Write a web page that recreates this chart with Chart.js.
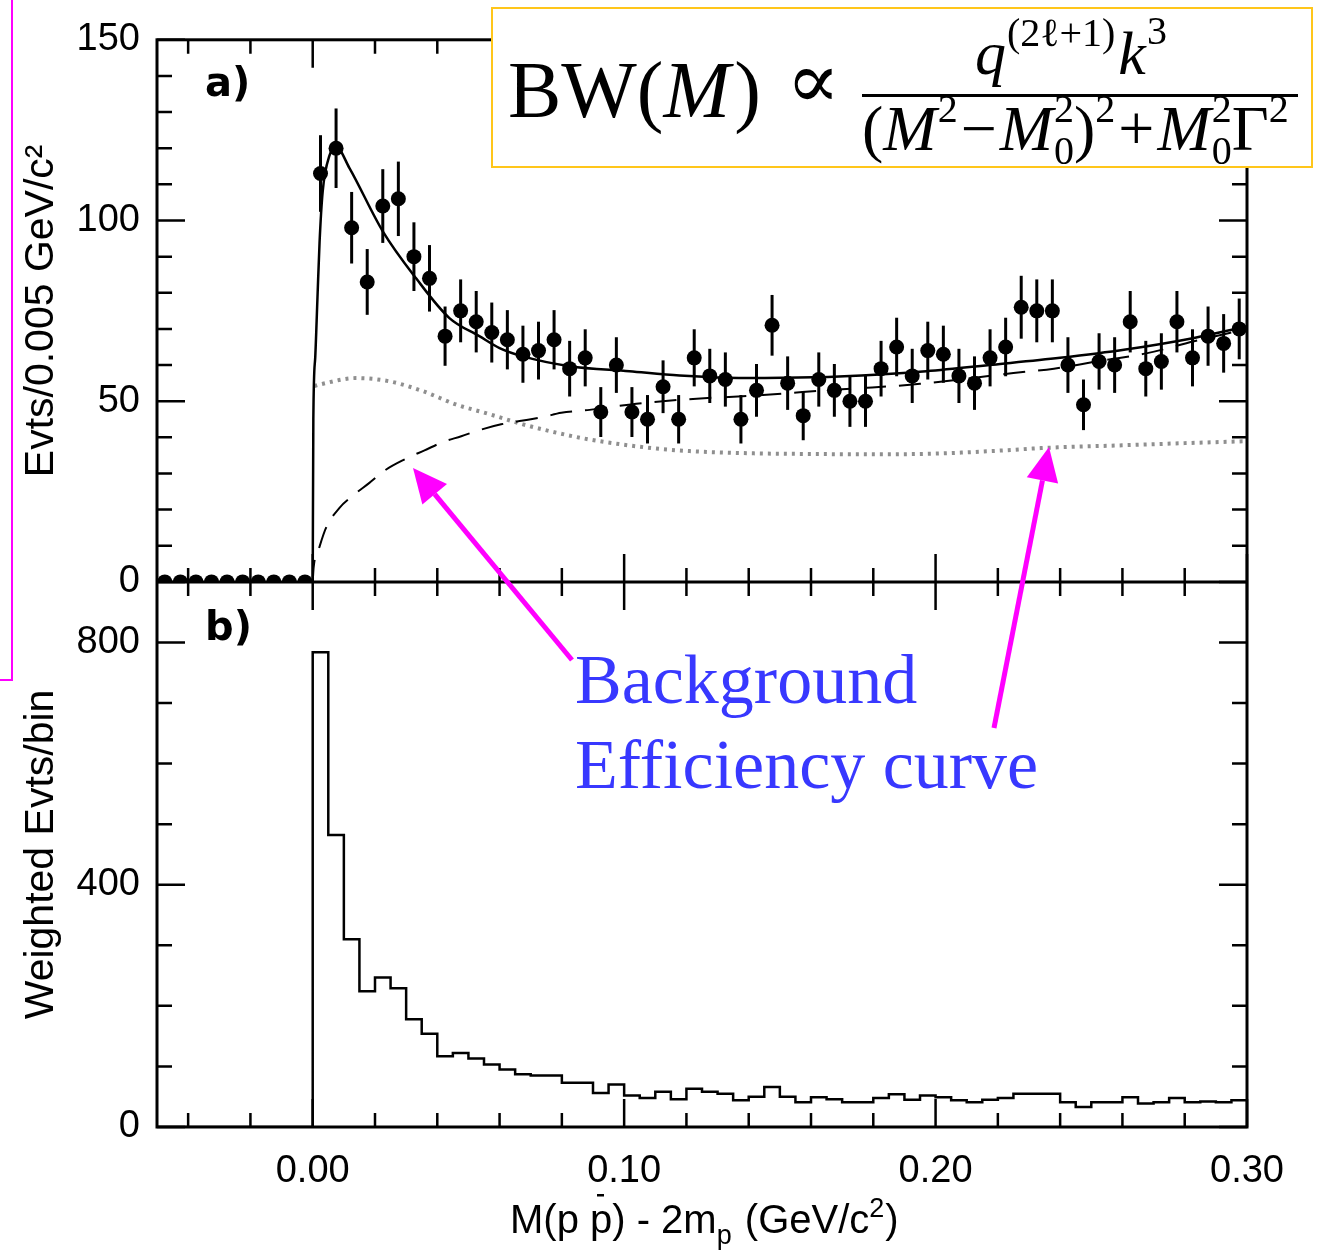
<!DOCTYPE html>
<html>
<head>
<meta charset="utf-8">
<script src="https://cdn.jsdelivr.net/npm/chart.js@4.4.0/dist/chart.umd.min.js"></script>
<style>
  html, body { margin: 0; padding: 0; background: #fff; }
  #wrap { position: relative; width: 1317px; height: 1251px; }
</style>
</head>
<body>
<div id="wrap"><canvas id="mass-chart" width="1317" height="1251"></canvas></div>
<script>
// M(p pbar) - 2m_p : a) events with fit, b) weighted events per bin

const binCentres = [
    -0.0475, -0.0425, -0.0375, -0.0325, -0.0275, -0.0225, -0.0175, -0.0125, -0.0075, -0.0025,
    0.0025, 0.0075, 0.0125, 0.0175, 0.0225, 0.0275, 0.0325, 0.0375, 0.0425, 0.0475,
    0.0525, 0.0575, 0.0625, 0.0675, 0.0725, 0.0775, 0.0825, 0.0875, 0.0925, 0.0975,
    0.1025, 0.1075, 0.1125, 0.1175, 0.1225, 0.1275, 0.1325, 0.1375, 0.1425, 0.1475,
    0.1525, 0.1575, 0.1625, 0.1675, 0.1725, 0.1775, 0.1825, 0.1875, 0.1925, 0.1975,
    0.2025, 0.2075, 0.2125, 0.2175, 0.2225, 0.2275, 0.2325, 0.2375, 0.2425, 0.2475,
    0.2525, 0.2575, 0.2625, 0.2675, 0.2725, 0.2775, 0.2825, 0.2875, 0.2925, 0.2975
];

// panel a) events / 0.005 GeV/c2
const counts = [
    0, 0, 0, 0, 0, 0, 0, 0, 0, 0,
    113, 120, 98, 83, 104, 106, 90, 84, 68, 75,
    72, 69, 67, 63, 64, 67, 59, 62, 47, 60,
    47, 45, 54, 45, 62, 57, 56, 45, 53, 71,
    55, 46, 56, 53, 50, 50, 59, 65, 57, 64,
    63, 57, 55, 62, 65, 76, 75, 75, 60, 49,
    61, 60, 72, 59, 61, 72, 62, 68, 66, 70
];
const countErrors = [
    0, 0, 0, 0, 0, 0, 0, 0, 0, 0,
    10.6, 11.0, 9.9, 9.1, 10.2, 10.3, 9.5, 9.2, 8.2, 8.7,
    8.5, 8.3, 8.2, 7.9, 8.0, 8.2, 7.7, 7.9, 6.9, 7.7,
    6.9, 6.7, 7.3, 6.7, 7.9, 7.5, 7.5, 6.7, 7.3, 8.4,
    7.4, 6.8, 7.5, 7.3, 7.1, 7.1, 7.7, 8.1, 7.5, 8.0,
    7.9, 7.5, 7.4, 7.9, 8.1, 8.7, 8.7, 8.7, 7.7, 7.0,
    7.8, 7.7, 8.5, 7.7, 7.8, 8.5, 7.9, 8.2, 8.1, 8.4
];

// fit (solid), background (dashed), efficiency (dotted)
const fitX = [0, 0.0002, 0.0008, 0.0015, 0.0022, 0.0032, 0.0054, 0.0075, 0.0118, 0.0225, 0.0332, 0.0439,
    0.0535, 0.06, 0.0675, 0.0825, 0.1017, 0.1178, 0.139, 0.1605, 0.182, 0.197, 0.2184, 0.24, 0.261, 0.283, 0.30];
const fitY = [0, 45, 62, 78, 94, 108, 118, 120.4, 114.5, 97, 84, 73,
    68, 64.7, 62.4, 59.7, 58.3, 57.1, 56.4, 56.6, 57.4, 58.3, 60.1, 62, 64.3, 67.5, 70.7];

const bkgX = [0, 0.0003, 0.0021, 0.0043, 0.0086, 0.0128, 0.0182, 0.0236, 0.0295, 0.0359, 0.0418, 0.0477,
    0.0535, 0.0605, 0.0664, 0.0739, 0.0798, 0.0889, 0.1039, 0.1199, 0.138, 0.151, 0.164, 0.178, 0.195,
    0.225, 0.238, 0.2517, 0.268, 0.283, 0.30];
const bkgY = [0, 4, 9.5, 15, 20.5, 23.8, 27.4, 31.1, 33.9, 36.4, 38.7, 40.3,
    42, 43.6, 44.5, 45.6, 46.8, 47.6, 49.3, 50.5, 51.4, 52.1, 53, 53.7, 54.8,
    57.8, 59, 61, 63.3, 66.6, 70];

const effX = [0.0005, 0.0022, 0.0139, 0.0246, 0.0353, 0.046, 0.0568, 0.0675, 0.0782, 0.0889, 0.0996,
    0.1103, 0.121, 0.14, 0.16, 0.182, 0.2, 0.22, 0.2356, 0.26, 0.28, 0.2987];
const effY = [54.2, 54.6, 56.4, 55.5, 52.8, 49.1, 46.4, 43.6, 41.3, 39.4, 38,
    36.9, 36.2, 35.6, 35.4, 35.3, 35.5, 36.3, 37.1, 37.8, 38.4, 38.9];

// panel b) weighted events per bin, bins from 0.000 to 0.300
const weightedCounts = [
    784, 482, 310, 224, 247, 229, 178, 154, 117, 122,
    113, 103, 95, 87, 85, 85, 73, 73, 56, 70,
    52, 48, 58, 46, 63, 58, 55, 44, 50, 66,
    50, 41, 49, 46, 41, 41, 48, 54, 45, 52,
    49, 44, 41, 45, 48, 55, 55, 55, 41, 33,
    41, 41, 49, 39, 41, 48, 41, 42, 41, 44
];

const xMin = -0.05, xMax = 0.30, binWidth = 0.005;
const xTickLabels = [0, 0.1, 0.2, 0.3];
const xTickMarks = [-0.04, -0.02, 0, 0.02, 0.04, 0.06, 0.08, 0.1, 0.12, 0.14, 0.16, 0.18, 0.2, 0.22, 0.24, 0.26, 0.28, 0.3];
const yTicksA = [0, 50, 100, 150];
const yMinorA = [0, 10, 20, 30, 40, 50, 60, 70, 80, 90, 100, 110, 120, 130, 140, 150];
const yTicksB = [0, 400, 800];
const yMinorB = [0, 100, 200, 300, 400, 500, 600, 700, 800];

const SANS = '"Liberation Sans", Arial, Helvetica, sans-serif';
const SERIF = '"Liberation Serif", "Times New Roman", "DejaVu Serif", serif';

const toXY = (xs, ys) => xs.map((x, i) => ({ x: x, y: ys[i] }));

const histCentres = binCentres.slice(binCentres.length - weightedCounts.length);
const histPoints = [{ x: xMin, y: 0 }]
    .concat(histCentres.map((c, i) => ({ x: c - binWidth / 2, y: weightedCounts[i] })))
    .concat([{ x: xMax, y: weightedCounts[weightedCounts.length - 1] }]);

function isMajor(v, list) {
    return list.some(m => Math.abs(m - v) < 1e-9);
}

function drawRuns(ctx, x, y, runs, family) {
    for (const r of runs) {
        ctx.font = (r.italic ? 'italic ' : '') + r.size + 'px ' + family;
        const w = ctx.measureText(r.text).width;
        ctx.fillText(r.text, x + (r.dx || 0), y + (r.dy || 0));
        if (r.mark) r.mark(x + (r.dx || 0), w);
        if (!r.hold) x += w + (r.dx || 0) + (r.gap || 0);
    }
    return x;
}

function arrow(ctx, x1, y1, x2, y2) {
    const ang = Math.atan2(y2 - y1, x2 - x1);
    const headLen = 34, headHalf = 16;
    const bx = x2 - headLen * Math.cos(ang), by = y2 - headLen * Math.sin(ang);
    ctx.beginPath();
    ctx.moveTo(x1, y1);
    ctx.lineTo(bx, by);
    ctx.stroke();
    ctx.beginPath();
    ctx.moveTo(x2, y2);
    ctx.lineTo(bx + headHalf * Math.sin(ang), by - headHalf * Math.cos(ang));
    ctx.lineTo(bx - headHalf * Math.sin(ang), by + headHalf * Math.cos(ang));
    ctx.closePath();
    ctx.fill();
}

// error bars, frame and inward ticks
const framePlugin = {
    id: 'frame',
    afterDatasetsDraw(chart) {
        const ctx = chart.ctx;
        const x = chart.scales.x, yA = chart.scales.yA, yB = chart.scales.yB;
        const L = chart.chartArea.left, R = chart.chartArea.right;
        ctx.save();
        ctx.strokeStyle = '#000';
        ctx.lineCap = 'butt';

        // error bars
        ctx.lineWidth = 3;
        counts.forEach((c, i) => {
            if (!countErrors[i]) return;
            const px = x.getPixelForValue(binCentres[i]);
            ctx.beginPath();
            ctx.moveTo(px, yA.getPixelForValue(c - countErrors[i]));
            ctx.lineTo(px, yA.getPixelForValue(c + countErrors[i]));
            ctx.stroke();
        });

        // frame
        ctx.lineWidth = 3;
        ctx.strokeRect(L, yA.top, R - L, yB.bottom - yA.top);
        ctx.beginPath();
        ctx.moveTo(L, yA.bottom);
        ctx.lineTo(R, yA.bottom);
        ctx.stroke();

        ctx.lineWidth = 2.5;
        ctx.beginPath();
        xTickMarks.forEach(v => {
            const px = x.getPixelForValue(v);
            const len = isMajor(v, xTickLabels) ? 28 : 14;
            ctx.moveTo(px, yA.top); ctx.lineTo(px, yA.top + len);
            ctx.moveTo(px, yA.bottom); ctx.lineTo(px, yA.bottom - len);
            ctx.moveTo(px, yB.top); ctx.lineTo(px, yB.top + len);
            ctx.moveTo(px, yB.bottom); ctx.lineTo(px, yB.bottom - len);
        });
        yMinorA.forEach(v => {
            const py = yA.getPixelForValue(v);
            const len = isMajor(v, yTicksA) ? 28 : 15;
            ctx.moveTo(L, py); ctx.lineTo(L + len, py);
            ctx.moveTo(R, py); ctx.lineTo(R - len, py);
        });
        yMinorB.forEach(v => {
            const py = yB.getPixelForValue(v);
            const len = isMajor(v, yTicksB) ? 28 : 15;
            ctx.moveTo(L, py); ctx.lineTo(L + len, py);
            ctx.moveTo(R, py); ctx.lineTo(R - len, py);
        });
        ctx.stroke();
        ctx.restore();
    },
    afterDraw(chart) {
        const ctx = chart.ctx;
        const L = chart.chartArea.left;
        const yA = chart.scales.yA, yB = chart.scales.yB;
        ctx.save();
        ctx.fillStyle = '#000';
        ctx.textBaseline = 'alphabetic';
        ctx.textAlign = 'left';

        // panel labels
        ctx.font = 'bold 40px "DejaVu Sans", sans-serif';
        ctx.fillText('a)', L + 48, yA.top + 56);
        ctx.fillText('b)', L + 48, yB.top + 58);

        // x axis title
        drawRuns(ctx, 510, 1233, [
            { text: 'M(p ', size: 40 },
            { text: 'p', size: 40, mark: (px) => ctx.fillRect(px + 7, 1194, 7, 2.5) },
            { text: ') - 2m', size: 40 },
            { text: 'p', size: 27, dy: 11, gap: 2 },
            { text: ' (GeV/c', size: 40 },
            { text: '2', size: 27, dy: -16, gap: 1 },
            { text: ')', size: 40 }
        ], SANS);

        // formula box
        ctx.fillStyle = '#fff';
        ctx.fillRect(492, 8, 820, 159);
        ctx.strokeStyle = '#ffc61a';
        ctx.lineWidth = 2;
        ctx.strokeRect(492, 8, 820, 159);
        ctx.fillStyle = '#000';
        drawRuns(ctx, 508, 117, [
            { text: 'BW(', size: 80 },
            { text: 'M', size: 80, italic: true, gap: 4 },
            { text: ')', size: 80 }
        ], SERIF);
        drawRuns(ctx, 786, 108, [{ text: '\u221D', size: 80 }], '"DejaVu Serif", serif');
        ctx.fillRect(862, 94, 436, 3);
        drawRuns(ctx, 975, 74, [
            { text: 'q', size: 62, italic: true, gap: 1 },
            { text: '(2\u2113+1)', size: 40, dy: -28, gap: 3 },
            { text: 'k', size: 62, italic: true, gap: 1 },
            { text: '3', size: 40, dy: -30 }
        ], SERIF);
        drawRuns(ctx, 862, 150, [
            { text: '(', size: 64 },
            { text: 'M', size: 64, italic: true, gap: 1 },
            { text: '2', size: 40, dy: -28, gap: 3 },
            { text: '\u2212', size: 64, gap: 3 },
            { text: 'M', size: 64, italic: true, gap: 1 },
            { text: '2', size: 40, dy: -28, hold: true },
            { text: '0', size: 40, dy: 14 },
            { text: ')', size: 64 },
            { text: '2', size: 40, dy: -28, gap: 3 },
            { text: '+', size: 64, gap: 3 },
            { text: 'M', size: 64, italic: true, gap: 1 },
            { text: '2', size: 40, dy: -28, hold: true },
            { text: '0', size: 40, dy: 14 },
            { text: '\u0393', size: 64 },
            { text: '2', size: 40, dy: -28 }
        ], SERIF);

        // magenta guide frame and arrows
        ctx.strokeStyle = '#ff00ff';
        ctx.fillStyle = '#ff00ff';
        ctx.lineWidth = 2;
        ctx.beginPath();
        ctx.moveTo(12, 0); ctx.lineTo(12, 680); ctx.lineTo(0, 680);
        ctx.stroke();
        ctx.lineWidth = 5;
        arrow(ctx, 572, 660, 413, 468);
        arrow(ctx, 994, 728, 1049, 447);

        // annotation text
        ctx.fillStyle = '#3838ff';
        ctx.font = '70px ' + SERIF;
        ctx.fillText('Background', 575, 703);
        ctx.fillText('Efficiency curve', 575, 788);
        ctx.restore();
    }
};

const tickFont = { family: SANS, size: 38 };
const titleFont = { family: SANS, size: 41 };

new Chart(document.getElementById('mass-chart').getContext('2d'), {
    type: 'line',
    data: {
        datasets: [
            {
                label: 'Data',
                type: 'scatter',
                data: toXY(binCentres, counts),
                yAxisID: 'yA',
                pointRadius: 7.5,
                pointBackgroundColor: '#000',
                pointBorderWidth: 0,
                showLine: false
            },
            {
                label: 'Fit',
                data: toXY(fitX, fitY),
                yAxisID: 'yA',
                borderColor: '#000',
                borderWidth: 2.5,
                pointRadius: 0,
                cubicInterpolationMode: 'monotone'
            },
            {
                label: 'Background',
                data: toXY(bkgX, bkgY),
                yAxisID: 'yA',
                borderColor: '#000',
                borderWidth: 2,
                borderDash: [22, 13],
                pointRadius: 0,
                cubicInterpolationMode: 'monotone'
            },
            {
                label: 'Efficiency',
                data: toXY(effX, effY),
                yAxisID: 'yA',
                borderColor: '#8f8f8f',
                borderWidth: 4,
                borderDash: [3, 5],
                pointRadius: 0,
                cubicInterpolationMode: 'monotone'
            },
            {
                label: 'Weighted',
                data: histPoints,
                yAxisID: 'yB',
                borderColor: '#000',
                borderWidth: 2.5,
                pointRadius: 0,
                stepped: 'before'
            }
        ]
    },
    options: {
        responsive: false,
        animation: false,
        layout: { padding: { top: 38, right: 70, left: 0, bottom: 0 } },
        plugins: {
            legend: { display: false },
            tooltip: { enabled: false }
        },
        scales: {
            x: {
                type: 'linear',
                min: xMin,
                max: xMax,
                grid: { display: false, drawTicks: false },
                border: { display: false },
                afterBuildTicks: s => { s.ticks = xTickLabels.map(v => ({ value: v })); },
                afterFit: s => { s.height = 124; },
                ticks: {
                    autoSkip: false,
                    maxRotation: 0,
                    padding: 22,
                    color: '#000',
                    font: tickFont,
                    callback: v => Number(v).toFixed(2)
                }
            },
            yB: {
                type: 'linear',
                position: 'left',
                stack: 'panels',
                stackWeight: 546,
                min: 0,
                max: 900,
                grid: { display: false, drawTicks: false },
                border: { display: false },
                afterBuildTicks: s => { s.ticks = yTicksB.map(v => ({ value: v })); },
                afterFit: s => { s.width = 157; },
                ticks: { padding: 17, color: '#000', font: tickFont },
                title: {
                    display: true,
                    text: 'Weighted Evts/bin',
                    color: '#000',
                    font: titleFont,
                    padding: { top: 17, bottom: 0 }
                }
            },
            yA: {
                type: 'linear',
                position: 'left',
                stack: 'panels',
                stackWeight: 543,
                min: 0,
                max: 150,
                grid: { display: false, drawTicks: false },
                border: { display: false },
                afterBuildTicks: s => { s.ticks = yTicksA.map(v => ({ value: v })); },
                afterFit: s => { s.width = 157; },
                ticks: { padding: 17, color: '#000', font: tickFont },
                title: {
                    display: true,
                    text: 'Evts/0.005 GeV/c\u00B2',
                    color: '#000',
                    font: titleFont,
                    padding: { top: 17, bottom: 0 }
                }
            }
        }
    },
    plugins: [framePlugin]
});
</script>
</body>
</html>
